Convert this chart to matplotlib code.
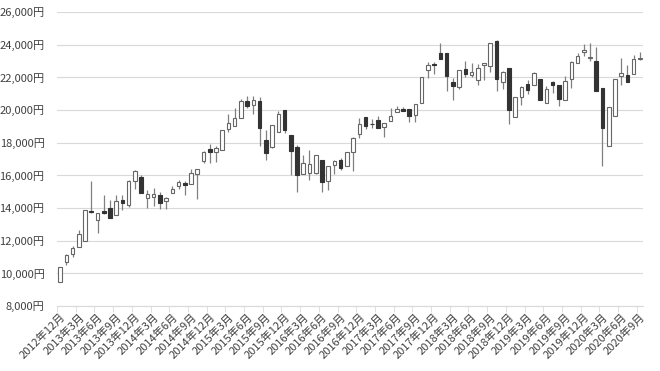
import matplotlib
matplotlib.use('Agg')
import matplotlib.pyplot as plt
import numpy as np

plt.rcParams['font.family'] = ['Noto Sans CJK JP', 'DejaVu Sans']

# monthly candles, 2012-12 .. 2020-09 (open, high, low, close)
opens = [9450, 10690, 11190, 11600, 12000, 13800, 13260, 13810, 14005, 13572,
         14484, 14200, 15655, 15908, 14619, 14652, 14791, 14457, 14935, 15326,
         15523, 15476, 16082, 16862, 17590, 17408, 17558, 18826, 19034, 19531,
         20570, 20329, 20548, 18165, 17722, 18683, 20012, 18450, 17750, 16085,
         16164, 16147, 16955, 15682, 16635, 16926, 16598, 17442, 18513, 19594,
         19148, 19393, 18983, 19310, 19860, 20055, 20080, 19691, 20400, 22420,
         22819, 23506, 23486, 21724, 21389, 22508, 22171, 21811, 22746, 22707,
         24245, 21687, 22575, 19562, 20788, 21602, 21509, 21923, 20410, 21729,
         21540, 20620, 21885, 22850, 23529, 23205, 22971, 21344, 17818, 19619,
         22062, 22121, 22195, 23138]
highs = [10395, 11190, 11680, 12630, 13900, 15627, 13700, 14808, 14466, 14817,
         14799, 15700, 16320, 16050, 15100, 15250, 15000, 14700, 15376, 15690,
         15650, 16374, 16413, 17520, 17935, 17768, 18797, 19754, 20133, 20650,
         20868, 20841, 20808, 18770, 19083, 19960, 20012, 18450, 17850, 17240,
         17572, 17234, 16955, 16600, 16919, 17081, 17425, 18330, 19494, 19594,
         19437, 19633, 19197, 20100, 20230, 20200, 20080, 20356, 22012, 22938,
         22939, 24124, 23486, 21968, 22468, 23002, 22900, 22794, 22869, 24120,
         24270, 22400, 22575, 20800, 21464, 21822, 22307, 21923, 21464, 21756,
         21540, 22098, 22974, 23520, 24066, 24083, 23873, 21344, 20194, 21878,
         23178, 22770, 23338, 23559]
lows = [9450, 10500, 11000, 11600, 12000, 13700, 12445, 13650, 13365, 13572,
        13853, 14086, 15152, 14914, 14008, 14100, 13910, 13965, 14935, 15165,
        14778, 15476, 14532, 16780, 16755, 16808, 17558, 18665, 19034, 19531,
        20109, 19737, 17806, 16930, 17645, 18683, 18565, 16017, 14953, 16085,
        15715, 16106, 14952, 15106, 16083, 16306, 16598, 16252, 18274, 18813,
        18910, 18909, 18336, 19310, 19860, 19925, 19280, 19275, 20400, 21972,
        22177, 23098, 21154, 20617, 21292, 22018, 22000, 21546, 21857, 22307,
        21149, 21300, 19155, 19562, 20333, 20977, 21505, 20601, 20410, 21046,
        20261, 20620, 21342, 22850, 23300, 22977, 21143, 16552, 17818, 19619,
        21530, 21710, 22195, 23032]
closes = [10395, 11140, 11560, 12400, 13860, 13774, 13677, 13668, 13389, 14455,
          14327, 15662, 16291, 14914, 14841, 14827, 14304, 14632, 15162, 15621,
          15425, 16173, 16413, 17459, 17450, 17674, 18797, 19206, 19520, 20563,
          20236, 20585, 18890, 17388, 19083, 19747, 18800, 17518, 16027, 16759,
          16666, 17234, 15576, 16569, 16887, 16450, 17425, 18308, 19114, 19041,
          19119, 18909, 19197, 19651, 20033, 19925, 19646, 20356, 22012, 22725,
          22765, 23098, 22068, 21454, 22468, 22202, 22305, 22554, 22865, 24120,
          21920, 22351, 20015, 20773, 21385, 21206, 22259, 20601, 21276, 21521,
          20704, 21756, 22927, 23294, 23657, 23205, 21143, 18917, 20194, 21878,
          22288, 21710, 23140, 23185]

months = []
y, m = 2012, 12
for _ in range(len(closes)):
    months.append(f'{y}年{m}月')
    m += 1
    if m > 12:
        y, m = y + 1, 1

yticks = list(range(8000, 26001, 2000))


def yen(v):
    return f'{v:,}円'


if __name__ == '__main__':
    o = np.array(opens)
    h = np.array(highs)
    lo = np.array(lows)
    c = np.array(closes)
    x = np.arange(len(c))
    up = c >= o

    fig = plt.figure(figsize=(6.6, 3.71), dpi=100)
    ax = fig.add_axes([57 / 660, 1 - 306 / 371, 586 / 660, 294 / 371])

    ax.vlines(x, lo, h, color='#808080', lw=0.9, zorder=2)
    body_lo = np.minimum(o, c)
    body_h = np.maximum(np.abs(c - o), 25)
    ax.bar(x[up], body_h[up], bottom=body_lo[up], width=0.58,
           color='white', edgecolor='#666666', lw=0.8, zorder=3)
    ax.bar(x[~up], body_h[~up], bottom=body_lo[~up], width=0.58,
           color='#333333', edgecolor='#333333', lw=0.8, zorder=3)

    ax.set_xlim(-0.5, len(c) - 0.5)
    ax.set_ylim(8000, 26000)
    ax.set_yticks(yticks)
    ax.set_yticklabels([yen(v) for v in yticks])
    ax.grid(axis='y', color='#d9d9d9', lw=0.8, zorder=0)
    ax.set_axisbelow(True)

    pos = list(range(0, len(c), 3))
    ax.set_xticks(pos)
    ax.set_xticklabels([months[i] for i in pos], rotation=45, ha='right',
                       va='top', rotation_mode='anchor')
    ax.set_xticks([p - 0.5 for p in pos], minor=True)
    ax.tick_params(axis='x', which='major', length=0, pad=4,
                   labelsize=8, labelcolor='#404040')
    ax.tick_params(axis='x', which='minor', length=4, color='#d9d9d9')
    ax.tick_params(axis='y', length=0, pad=9, labelsize=8,
                   labelcolor='#404040')

    for s in ['left', 'right', 'top']:
        ax.spines[s].set_visible(False)
    ax.spines['bottom'].set_color('#d9d9d9')

    fig.savefig('out.png', dpi=100)
